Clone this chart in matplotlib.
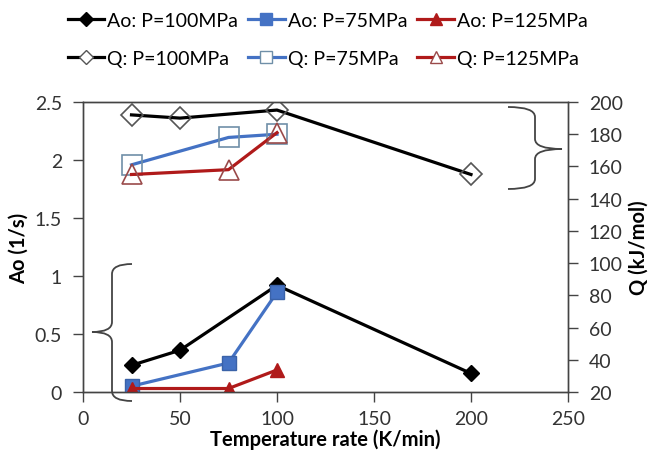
import matplotlib.pyplot as plt
from matplotlib.path import Path
from matplotlib.patches import PathPatch
from matplotlib.lines import Line2D

plt.rcParams['font.family'] = ['Lato', 'DejaVu Sans']

# Data
rate_100 = [25, 50, 100, 200]
ao_100 = [0.23, 0.36, 0.92, 0.16]
q_100 = [192, 190, 195, 155]

rate_75 = [25, 75, 100]
ao_75 = [0.05, 0.25, 0.86]
q_75 = [161, 178, 180]

rate_125 = [25, 75, 100]
ao_125 = [0.03, 0.03, 0.19]
q_125 = [155, 158, 181]

black = "#000000"
blue = "#4472C4"
red = "#B01A1A"

W, H = 653, 460
fig = plt.figure(figsize=(W / 100, H / 100), dpi=100)
ax = fig.add_axes([83 / W, 1 - 393 / H, (568 - 83) / W, (393 - 103) / H])
ax2 = ax.twinx()

# Ao series (left axis)
ax.plot(rate_100, ao_100, color=black, lw=2.3, marker="D", ms=8, mfc=black, mec=black, zorder=3)
ax.plot(rate_75, ao_75, color=blue, lw=2.3, marker="s", ms=10, mfc=blue, mec="#3A62A8", zorder=3)
ax.plot(rate_125, ao_125, color=red, lw=2.3, marker="^", ms=10, mfc=red, mec=red, zorder=3)

# Q series (right axis)
ax2.plot(rate_100, q_100, color=black, lw=2.3, marker="D", ms=11, mfc="none", mec="#555555", mew=1.2)
ax2.plot(rate_75, q_75, color=blue, lw=2.3, marker="s", ms=14, mfc="none", mec="#6F8FA8", mew=1.2)
ax2.plot(rate_125, q_125, color=red, lw=2.3, marker="^", ms=15, mfc="none", mec="#9A4A4A", mew=1.2)

ax.set_xlim(0, 250)
ax.set_ylim(0, 2.5)
ax2.set_ylim(20, 200)
ax.set_xticks([0, 50, 100, 150, 200, 250])
ax.set_yticks([0, 0.5, 1, 1.5, 2, 2.5])
ax.set_yticklabels(["0", "0.5", "1", "1.5", "2", "2.5"])
ax2.set_yticks(range(20, 201, 20))

for a in (ax, ax2):
    a.tick_params(direction="out", length=7, width=1, pad=8, labelsize=14,
                  color="#444444", labelcolor="#333333")
    for s in a.spines.values():
        s.set_color("#444444")
        s.set_linewidth(1)
ax.tick_params(axis="x", pad=6)

ax.set_xlabel("Temperature rate (K/min)", fontsize=14.5, fontweight="bold", labelpad=1)
ax.set_ylabel("Ao (1/s)", fontsize=14.5, fontweight="bold", labelpad=4)
ax2.set_ylabel("Q (kJ/mol)", fontsize=14.5, fontweight="bold", labelpad=4)

# Legend, two rows of three
handles = [
    Line2D([], [], color=black, lw=2.3, marker="D", ms=7, mfc=black, mec=black),
    Line2D([], [], color=black, lw=2.3, marker="D", ms=7, mfc="white", mec="#555555"),
    Line2D([], [], color=blue, lw=2.3, marker="s", ms=9, mfc=blue, mec=blue),
    Line2D([], [], color=blue, lw=2.3, marker="s", ms=9, mfc="white", mec="#6F8FA8"),
    Line2D([], [], color=red, lw=2.3, marker="^", ms=9, mfc=red, mec=red),
    Line2D([], [], color=red, lw=2.3, marker="^", ms=9, mfc="white", mec="#9A4A4A"),
]
labels = ["Ao: P=100MPa", "Q: P=100MPa", "Ao: P=75MPa", "Q: P=75MPa",
          "Ao: P=125MPa", "Q: P=125MPa"]
fig.legend(handles, labels, ncol=3, loc="upper left", bbox_to_anchor=(50 / W, 1.01),
           frameon=False, fontsize=14, handlelength=1.9, handletextpad=0.15,
           columnspacing=0.5, labelspacing=1.1)


def brace(x_end, x_spine, x_tip, y_top, y_mid, y_bot, r=10):
    pts = [(x_end, y_top), (x_spine, y_top), (x_spine, y_top + r),
           (x_spine, y_mid - r), (x_spine, y_mid), (x_tip, y_mid),
           (x_spine, y_mid), (x_spine, y_mid + r),
           (x_spine, y_bot - r), (x_spine, y_bot), (x_end, y_bot)]
    codes = [Path.MOVETO, Path.CURVE3, Path.CURVE3, Path.LINETO, Path.CURVE3, Path.CURVE3,
             Path.CURVE3, Path.CURVE3, Path.LINETO, Path.CURVE3, Path.CURVE3]
    verts = [(x / W, 1 - y / H) for x, y in pts]
    fig.add_artist(PathPatch(Path(verts, codes), fill=False, ec="#444444", lw=1.3,
                             transform=fig.transFigure))


brace(132, 112, 92, 265, 333, 402)
brace(508, 535, 562, 108, 150, 190)

fig.savefig("out.png", dpi=100)
